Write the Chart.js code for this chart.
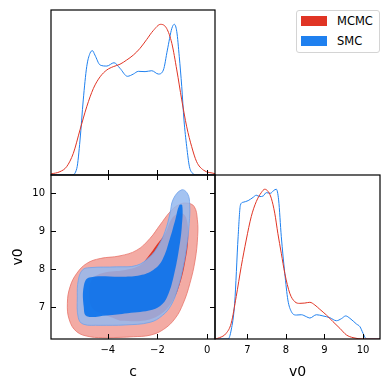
<!DOCTYPE html>
<html>
<head>
<meta charset="utf-8">
<script src="https://cdn.jsdelivr.net/npm/chart.js@4.4.1/dist/chart.umd.min.js"></script>
<style>
  body { margin: 0; background: #fff; }
  #wrap { position: relative; width: 389px; height: 390px; font-family: "DejaVu Sans", sans-serif; }
  #wrap canvas { position: absolute; left: 0; top: 0; }
  #legend { position: absolute; left: 296px; top: 10px; width: 82px; height: 41px;
            border: 1px solid #d4d4d4; border-radius: 3px; background: #fff; }
  .item { position: absolute; left: 4px; height: 11px; font-size: 11.5px; color: #000; white-space: nowrap; }
  .item span.sw { position: absolute; left: 0; top: 0; width: 26px; height: 10px; }
  .item span.tx { position: absolute; left: 36px; top: -2px; line-height: 14px; }
</style>
</head>
<body>
<div id="wrap">
  <canvas id="top" width="389" height="390"></canvas>
  <canvas id="joint" width="389" height="390"></canvas>
  <canvas id="side" width="389" height="390"></canvas>
  <div id="legend"></div>
</div>
<script>
const seriesNames = ["MCMC", "SMC"];
const cTicks = [-4, -2, 0];
const vTicks = [7, 8, 9, 10];

// marginal of c
const cMcmcX = [-6.29, -5.93, -5.66, -5.39, -5.12, -4.85, -4.58, -4.31, -4.04, -3.78, -3.51, -3.24, -2.97,
                -2.70, -2.43, -2.17, -1.87, -1.63, -1.42, -1.22, -1.02, -0.82, -0.62, -0.42, -0.15, 0.32];
const cMcmcY = [0.007, 0.022, 0.055, 0.144, 0.30, 0.453, 0.575, 0.652, 0.697, 0.719, 0.735, 0.763, 0.796,
                0.841, 0.90, 0.958, 1.0, 0.973, 0.874, 0.697, 0.498, 0.32, 0.188, 0.088, 0.033, 0.009];
const cSmcX = [-6.29, -5.46, -5.25, -5.12, -4.99, -4.85, -4.72, -4.62, -4.52, -4.31, -4.04, -3.75, -3.51, -3.21,
               -2.97, -2.77, -2.50, -2.23, -1.96, -1.76, -1.60, -1.42, -1.32, -1.22, -1.12, -1.02, -0.93, -0.82,
               -0.71, -0.58, -0.45, 0.32];
const cSmcY = [0, 0, 0.044, 0.232, 0.498, 0.719, 0.807, 0.825, 0.796, 0.730, 0.723, 0.745, 0.708, 0.655,
               0.670, 0.688, 0.686, 0.692, 0.670, 0.697, 0.829, 0.973, 1.0, 0.951, 0.785, 0.586, 0.365, 0.188,
               0.055, 0.011, 0, 0];

// marginal of v0
const vMcmcX = [6.16, 6.28, 6.45, 6.58, 6.71, 6.84, 6.97, 7.10, 7.23, 7.36, 7.45, 7.54, 7.62, 7.71, 7.79, 7.88,
                7.97, 8.10, 8.23, 8.36, 8.49, 8.62, 8.75, 8.88, 9.05, 9.22, 9.40, 9.57, 9.74, 10.0, 10.44];
const vMcmcY = [0, 0.009, 0.038, 0.105, 0.283, 0.483, 0.661, 0.817, 0.917, 0.977, 1.0, 0.984, 0.940, 0.840, 0.706,
                0.572, 0.439, 0.305, 0.249, 0.238, 0.240, 0.245, 0.227, 0.198, 0.160, 0.116, 0.071, 0.027, 0.009, 0, 0];
const vSmcX = [6.16, 6.50, 6.58, 6.67, 6.76, 6.82, 6.89, 7.02, 7.15, 7.23, 7.32, 7.41, 7.49, 7.60, 7.68, 7.75,
               7.81, 7.88, 7.97, 8.05, 8.14, 8.27, 8.40, 8.53, 8.62, 8.79, 8.96, 9.14, 9.31, 9.44, 9.55, 9.66,
               9.83, 9.92, 10.0, 10.07, 10.12, 10.44];
const vSmcY = [0, 0, 0.06, 0.238, 0.683, 0.895, 0.913, 0.924, 0.946, 0.960, 0.951, 0.955, 0.977, 0.973, 0.991, 1.0,
               0.929, 0.683, 0.439, 0.261, 0.183, 0.160, 0.162, 0.149, 0.140, 0.162, 0.154, 0.142, 0.122, 0.136,
               0.154, 0.138, 0.100, 0.082, 0.038, 0.004, 0, 0];

// joint contours (c, v0), outer = 95%, inner = 68%
const mcmcOuterC = [-4.04, -4.72, -5.25, -5.55, -5.63, -5.52, -5.25, -4.85, -4.31, -3.51, -2.83, -2.30, -1.90, -1.49,
                    -1.16, -0.82, -0.52, -0.39, -0.38, -0.48, -0.69, -0.96, -1.29, -1.76, -2.30, -2.97, -4.04];
const mcmcOuterV = [6.19, 6.22, 6.35, 6.66, 7.10, 7.54, 7.89, 8.15, 8.28, 8.35, 8.50, 8.81, 9.16, 9.51,
                    9.69, 9.74, 9.65, 9.30, 8.86, 8.24, 7.63, 7.10, 6.70, 6.41, 6.26, 6.22, 6.19];
const mcmcInnerC = [-3.5, -4.1, -4.6, -4.75, -4.65, -4.2, -3.3, -2.7, -2.35, -2.05, -1.68, -1.45, -1.2, -0.95,
                    -0.8, -0.76, -0.88, -1.1, -1.4, -1.9, -2.6, -3.5];
const mcmcInnerV = [6.64, 6.8, 6.95, 7.3, 7.72, 7.9, 7.98, 8.1, 8.35, 8.62, 8.95, 9.3, 9.45, 9.45,
                    9.25, 8.8, 8.2, 7.6, 7.15, 6.8, 6.64, 6.64];
const smcOuterC = [-4.31, -4.99, -5.19, -5.23, -5.19, -5.02, -4.72, -3.64, -2.83, -2.30, -1.96, -1.69, -1.50, -1.36,
                   -1.02, -0.78, -0.70, -0.72, -0.82, -0.98, -1.20, -1.45, -1.80, -2.30, -3.30, -4.31];
const smcOuterV = [6.52, 6.55, 6.72, 7.27, 7.71, 7.98, 8.04, 8.06, 8.10, 8.33, 8.62, 9.0, 9.45, 9.85,
                   10.09, 9.98, 9.70, 9.20, 8.60, 8.00, 7.45, 7.05, 6.78, 6.60, 6.53, 6.52];
const smcInnerC = [-4.04, -4.85, -4.97, -4.97, -4.75, -3.37, -2.70, -2.17, -1.80, -1.50, -1.28, -1.12, -1.00, -1.02,
                   -1.15, -1.35, -1.55, -1.80, -2.20, -3.20, -4.04];
const smcInnerV = [6.78, 6.76, 7.0, 7.55, 7.78, 7.80, 7.84, 7.98, 8.25, 8.80, 9.30, 9.68, 9.68, 9.10,
                   8.45, 7.80, 7.36, 7.08, 6.93, 6.84, 6.78];

const mcmcColor = "#E03424";
const smcColor = "#1F80EF";
const tickFont = { family: "DejaVu Sans", size: 10 };
const titleFont = { family: "DejaVu Sans", size: 14 };

const toXY = (xs, ys) => xs.map((x, i) => ({ x: x, y: ys[i] }));
const minus = v => String(v).replace("-", "\u2212");

// box round each panel plus inward tick marks
const framePlugin = {
  id: "frame",
  afterDraw(chart, args, opts) {
    const ctx = chart.ctx, a = chart.chartArea;
    const xs = chart.scales.x, ys = chart.scales.y;
    ctx.save();
    ctx.strokeStyle = "#000";
    ctx.lineWidth = 1;
    ctx.beginPath();
    (opts.sides || []).forEach(side => {
      const vert = side === "left" || side === "right";
      const vals = vert ? opts.yTicks : opts.xTicks;
      const sc = vert ? ys : xs;
      vals.forEach(v => {
        const p = Math.round(sc.getPixelForValue(v)) + 0.5;
        if (side === "bottom") { ctx.moveTo(p, a.bottom); ctx.lineTo(p, a.bottom - 5); }
        if (side === "top") { ctx.moveTo(p, a.top); ctx.lineTo(p, a.top + 5); }
        if (side === "left") { ctx.moveTo(a.left, p); ctx.lineTo(a.left + 5, p); }
        if (side === "right") { ctx.moveTo(a.right, p); ctx.lineTo(a.right - 5, p); }
      });
    });
    ctx.stroke();
    ctx.lineWidth = 1.2;
    ctx.strokeRect(a.left, a.top, a.right - a.left, a.bottom - a.top);
    ctx.restore();
  }
};

function hiddenAxis(min, max) {
  return { type: "linear", min: min, max: max, display: false };
}

function shownAxis(min, max, ticks, title, horizontal) {
  return {
    type: "linear", min: min, max: max,
    grid: { display: false, drawTicks: false },
    border: { display: false },
    afterBuildTicks: s => { s.ticks = ticks.map(v => ({ value: v })); },
    afterFit: s => { if (horizontal) s.height = 51; else s.width = 51; },
    ticks: { font: tickFont, color: "#000", padding: horizontal ? 5 : 6, autoSkip: false,
             maxRotation: 0, minRotation: 0, callback: v => minus(v) },
    title: { display: true, text: title, font: titleFont, color: "#000",
             padding: horizontal ? { top: 0, bottom: 9 } : { top: 10, bottom: 0 } }
  };
}

function lineSet(label, xs, ys, color) {
  return { label: label, data: toXY(xs, ys), borderColor: color, borderWidth: 1,
           pointRadius: 0, fill: false, cubicInterpolationMode: "monotone" };
}

function shapeSet(label, xs, ys, fillColor, edge, order) {
  return { label: label, data: toXY(xs, ys), backgroundColor: fillColor,
           borderColor: edge || "rgba(0,0,0,0)", borderWidth: edge ? 0.8 : 0,
           pointRadius: 0, fill: "shape", tension: 0.4, order: order };
}

function panelOptions(padding, x, y, frame) {
  return {
    responsive: false, animation: false, devicePixelRatio: 1,
    layout: { padding: padding },
    scales: { x: x, y: y },
    plugins: { legend: { display: false }, tooltip: { enabled: false }, frame: frame }
  };
}

Chart.defaults.font.family = "DejaVu Sans";

new Chart(document.getElementById("top"), {
  type: "line",
  data: { datasets: [
    lineSet(seriesNames[0], cMcmcX, cMcmcY, mcmcColor),
    lineSet(seriesNames[1], cSmcX, cSmcY, smcColor)
  ] },
  options: panelOptions({ left: 51, top: 10, right: 174, bottom: 215 },
    hiddenAxis(-6.29, 0.32), hiddenAxis(0, 1.095),
    { sides: ["bottom"], xTicks: cTicks, yTicks: [] }),
  plugins: [framePlugin]
});

new Chart(document.getElementById("joint"), {
  type: "line",
  data: { datasets: [
    shapeSet(seriesNames[0], mcmcOuterC, mcmcOuterV, "#F3ABA4", "#E8756B", 4),
    shapeSet(seriesNames[0], mcmcInnerC, mcmcInnerV, mcmcColor, null, 3),
    shapeSet(seriesNames[1], smcOuterC, smcOuterV, "rgba(148,185,239,0.85)", "#6FA2EC", 2),
    shapeSet(seriesNames[1], smcInnerC, smcInnerV, "rgba(0,111,237,0.85)", null, 1)
  ] },
  options: panelOptions({ left: 0, top: 175, right: 174, bottom: 0 },
    shownAxis(-6.29, 0.32, cTicks, "c", true),
    shownAxis(6.16, 10.48, vTicks, "v0", false),
    { sides: ["bottom", "top", "left", "right"], xTicks: cTicks, yTicks: vTicks }),
  plugins: [framePlugin]
});

new Chart(document.getElementById("side"), {
  type: "line",
  data: { datasets: [
    lineSet(seriesNames[0], vMcmcX, vMcmcY, mcmcColor),
    lineSet(seriesNames[1], vSmcX, vSmcY, smcColor)
  ] },
  options: panelOptions({ left: 215, top: 175, right: 9, bottom: 0 },
    shownAxis(6.16, 10.44, vTicks, "v0", true),
    hiddenAxis(0, 1.095),
    { sides: ["bottom"], xTicks: vTicks, yTicks: [] }),
  plugins: [framePlugin]
});

// legend
const legend = document.getElementById("legend");
[mcmcColor, smcColor].forEach((col, i) => {
  const item = document.createElement("div");
  item.className = "item";
  item.style.top = (i === 0 ? 5 : 25) + "px";
  item.innerHTML = '<span class="sw" style="background:' + col + '"></span><span class="tx">' + seriesNames[i] + '</span>';
  legend.appendChild(item);
});
</script>
</body>
</html>
